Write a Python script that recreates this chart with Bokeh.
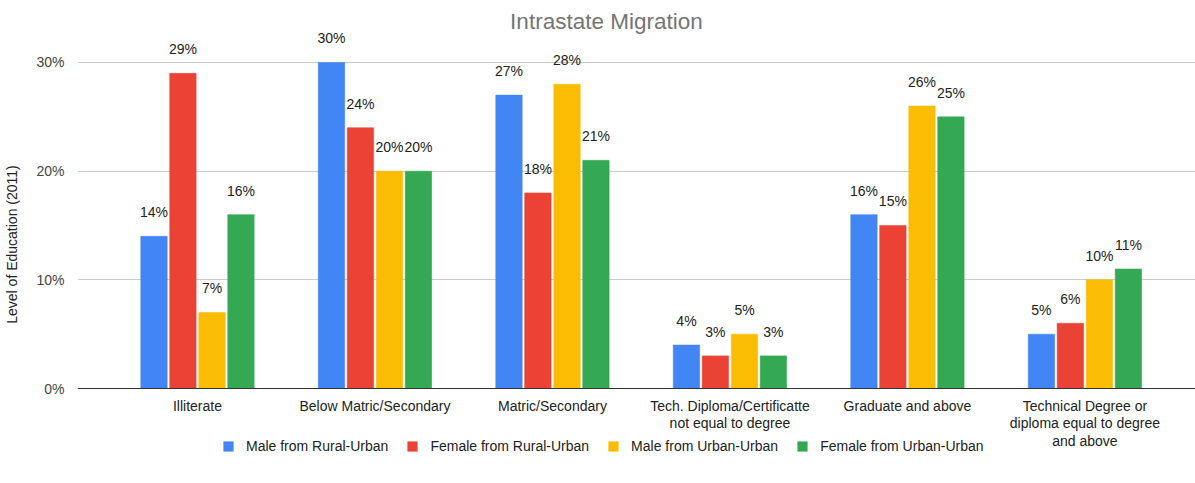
from bokeh.plotting import figure
from bokeh.models import (ColumnDataSource, Range1d, FixedTicker, PrintfTickFormatter,
                          Legend, LegendItem, Label)
from bokeh.core.properties import value
from bokeh.embed import file_html
from bokeh.resources import INLINE

title_text = "Intrastate Migration"
y_axis_title = "Level of Education (2011)"
categories = ["Illiterate", "Below Matric/Secondary", "Matric/Secondary",
              "Tech. Diploma/Certificatte\nnot equal to degree", "Graduate and above",
              "Technical Degree or\ndiploma equal to degree\nand above"]
series_names = ["Male from Rural-Urban", "Female from Rural-Urban",
                "Male from Urban-Urban", "Female from Urban-Urban"]
male_rural_urban = [14, 30, 27, 4, 16, 5]
female_rural_urban = [29, 24, 18, 3, 15, 6]
male_urban_urban = [7, 20, 28, 5, 26, 10]
female_urban_urban = [16, 20, 21, 3, 25, 11]
y_ticks = [0, 10, 20, 30]

series = [male_rural_urban, female_rural_urban, male_urban_urban, female_urban_urban]
colors = ["#4285F4", "#EA4335", "#FBBC04", "#34A853"]
offsets = [-0.245, -0.082, 0.082, 0.245]
FONT = "Liberation Sans"

# frame: top 5px, bottom 483px; value 0 at 388px, 30 at 62px
p = figure(width=1195, height=483, output_backend="svg", toolbar_location=None,
           x_range=Range1d(-0.676, 5.623), y_range=Range1d(-8.742, 35.245),
           min_border_left=77, min_border_right=0, min_border_top=5,
           min_border_bottom=0, outline_line_color=None)

items = []
for vals, col, off, name in zip(series, colors, offsets, series_names):
    src = ColumnDataSource(dict(x=[i + off for i in range(len(categories))],
                                top=vals, lab=[f"{v}%" for v in vals]))
    r = p.vbar(x="x", top="top", bottom=0, width=0.149, source=src, fill_color=col,
               line_color=col, line_width=0.5)
    p.text(x="x", y="top", text="lab", source=src, text_align="center",
           text_baseline="alphabetic", y_offset=-24, text_font=value(FONT),
           text_font_size="14px", text_color="#222222")
    items.append(LegendItem(label=name, renderers=[r]))

p.add_layout(Label(x=2.304, y=33.74, text=title_text, text_align="center",
                   text_baseline="alphabetic", text_font=FONT,
                   text_font_size="22.5px", text_color="#757575"))

p.xgrid.grid_line_color = None
p.ygrid.grid_line_color = "#cccccc"
p.ygrid.ticker = FixedTicker(ticks=y_ticks)

p.yaxis.ticker = FixedTicker(ticks=y_ticks)
p.yaxis.formatter = PrintfTickFormatter(format="%d%%")
p.yaxis.axis_line_color = None
p.yaxis.major_tick_line_color = None
p.yaxis.minor_tick_line_color = None
p.yaxis.major_label_text_font = FONT
p.yaxis.major_label_text_font_size = "14px"
p.yaxis.major_label_text_color = "#444444"
p.yaxis.major_label_standoff = 7
p.yaxis.axis_label = y_axis_title
p.yaxis.axis_label_text_font = FONT
p.yaxis.axis_label_text_font_size = "14px"
p.yaxis.axis_label_text_font_style = "normal"
p.yaxis.axis_label_text_color = "#222222"
p.yaxis.axis_label_standoff = 13

p.xaxis.fixed_location = 0
p.xaxis.ticker = FixedTicker(ticks=list(range(len(categories))))
p.xaxis.major_label_overrides = {i: c for i, c in enumerate(categories)}
p.xaxis.axis_line_color = "#333333"
p.xaxis.major_tick_line_color = None
p.xaxis.minor_tick_line_color = None
p.xaxis.major_label_text_font = FONT
p.xaxis.major_label_text_font_size = "14px"
p.xaxis.major_label_text_color = "#222222"
p.xaxis.major_label_standoff = 3
p.xaxis.major_label_text_line_height = 1.1

legend = Legend(items=items, orientation="horizontal", location=(145, 29),
                glyph_width=12, glyph_height=12, label_standoff=12, spacing=18,
                padding=0, margin=0, border_line_color=None,
                background_fill_alpha=0, label_text_font=FONT,
                label_text_font_size="14px", label_text_color="#222222")
p.add_layout(legend, "center")

open("out.html", "w").write(file_html(p, INLINE))
